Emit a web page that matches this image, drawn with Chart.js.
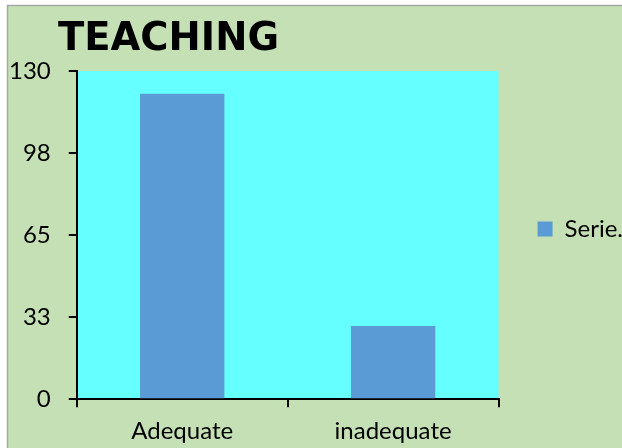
<!DOCTYPE html>
<html>
<head>
<meta charset="utf-8">
<script src="https://cdn.jsdelivr.net/npm/chart.js@4/dist/chart.umd.min.js"></script>
<style>
html,body{margin:0;padding:0;background:#ffffff;}
#wrap{position:relative;width:622px;height:448px;}
canvas{display:block;}
</style>
</head>
<body>
<div id="wrap"><canvas id="c" width="622" height="448"></canvas></div>
<script>
const chartTitle = 'TEACHING';
const categories = ['Adequate', 'inadequate'];
const seriesName = 'Serie.';
const seriesValues = [121, 29];
const tickLabels = ['0', '33', '65', '98', '130'];
const axisMax = 130;

const bgPlugin = {
  id: 'bgPlugin',
  afterLayout(chart) {
    const lg = chart.legend;
    if (lg) { lg.top -= 6; lg.bottom -= 6; }
  },
  beforeDraw(chart) {
    const ctx = chart.ctx;
    const ca = chart.chartArea;
    ctx.save();
    ctx.fillStyle = '#ffffff';
    ctx.fillRect(0, 0, chart.width, chart.height);
    ctx.fillStyle = '#C5E0B4';
    ctx.fillRect(7, 5, chart.width - 7, chart.height - 5);
    ctx.strokeStyle = '#A6A6A6';
    ctx.lineWidth = 1.5;
    ctx.beginPath();
    ctx.moveTo(7.5, chart.height);
    ctx.lineTo(7.5, 5.5);
    ctx.lineTo(chart.width, 5.5);
    ctx.stroke();
    ctx.fillStyle = '#66FFFF';
    ctx.fillRect(ca.left, ca.top, ca.right - ca.left, ca.bottom - ca.top);
    ctx.restore();
  },
  afterDraw(chart) {
    const ctx = chart.ctx;
    ctx.save();
    ctx.fillStyle = '#000000';
    ctx.font = 'bold 38.5px "DejaVu Sans"';
    ctx.textBaseline = 'alphabetic';
    ctx.textAlign = 'left';
    ctx.fillText(chartTitle, 58, 50);
    ctx.restore();
  }
};

new Chart(document.getElementById('c'), {
  type: 'bar',
  data: {
    labels: categories,
    datasets: [{
      label: seriesName,
      data: seriesValues,
      backgroundColor: '#5B9BD5',
      borderWidth: 0,
      barPercentage: 0.4,
      categoryPercentage: 1.0
    }]
  },
  options: {
    responsive: false,
    animation: false,
    devicePixelRatio: 1,
    layout: { padding: { top: 71, left: -9, bottom: -8, right: -11 } },
    plugins: {
      title: { display: false },
      tooltip: { enabled: false },
      legend: {
        display: true,
        position: 'right',
        fullSize: false,
        labels: {
          boxWidth: 15,
          boxHeight: 15,
          padding: 39,
          color: '#000000',
          font: { family: 'Lato', size: 24 }
        }
      }
    },
    scales: {
      x: {
        grid: {
          display: true,
          offset: true,
          drawOnChartArea: false,
          drawTicks: true,
          tickLength: 8,
          color: '#000000',
          lineWidth: 2
        },
        border: { display: true, color: '#000000', width: 2 },
        ticks: {
          color: '#000000',
          padding: 10,
          font: { family: 'Lato', size: 24 }
        }
      },
      y: {
        min: 0,
        max: axisMax,
        grid: {
          display: true,
          drawOnChartArea: false,
          drawTicks: true,
          tickLength: 8,
          color: '#000000',
          lineWidth: 2
        },
        border: { display: true, color: '#000000', width: 2 },
        ticks: {
          stepSize: axisMax / (tickLabels.length - 1),
          color: '#000000',
          padding: 18,
          font: { family: 'Lato', size: 24 },
          callback: function (value, index) { return tickLabels[index]; }
        }
      }
    }
  },
  plugins: [bgPlugin]
});
</script>
</body>
</html>
